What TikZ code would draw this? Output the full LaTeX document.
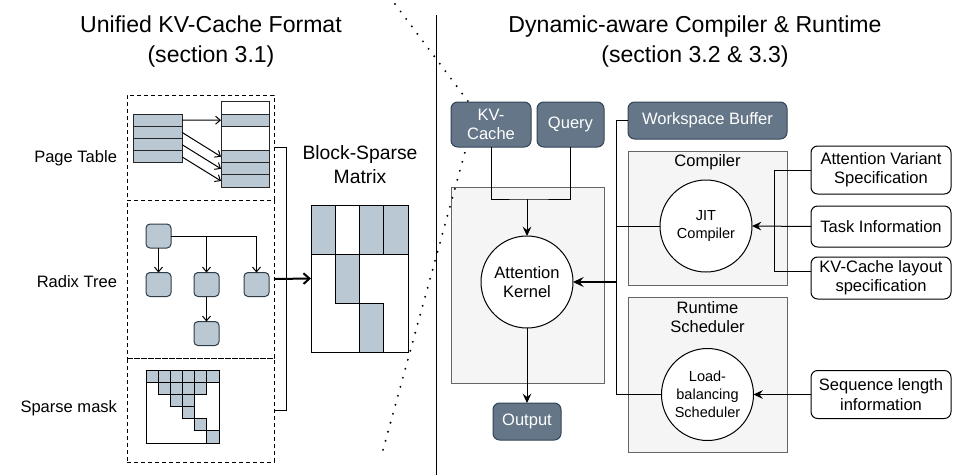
\documentclass[tikz,border=0pt]{standalone}
\usepackage{fontspec}
\setmainfont{Liberation Sans}
\usetikzlibrary{arrows.meta,calc}
\definecolor{darkfill}{HTML}{647687}
\definecolor{darkedge}{HTML}{314354}
\definecolor{cellfill}{HTML}{BAC8D3}
\definecolor{celledge}{HTML}{2F3B44}
\definecolor{contfill}{HTML}{F5F5F5}
\definecolor{contedge}{HTML}{666666}
\newcommand\pxu[1]{#1*0.75pt}
\begin{document}
\begin{tikzpicture}[x=0.75pt,y=-0.75pt,line width=0.75pt,
  every node/.style={inner sep=0pt,outer sep=0pt},
  basetxt/.style={font=\fontsize{12.4}{14.5}\selectfont,align=center},
  smalltxt/.style={font=\fontsize{10.9}{13.5}\selectfont,align=center},
  titletxt/.style={font=\fontsize{17.3}{22.5}\selectfont,align=center},
  darkbox/.style={basetxt,draw=darkedge,fill=darkfill,text=white,rounded corners=5pt},
  contbox/.style={draw=contedge,fill=contfill},
  whitebox/.style={basetxt,draw=black,fill=white,rounded corners=5pt,minimum width=\pxu{140}},
  circ/.style={circle,draw=black,fill=white,minimum size=\pxu{92}},
  dashbox/.style={draw=black,dash pattern=on 3pt off 2.25pt,minimum width=\pxu{147}},
  ptcell/.style={draw=black!85,fill=cellfill,minimum height=\pxu{12.2}},
  radnode/.style={draw=celledge,fill=cellfill,rounded corners=3pt,minimum width=\pxu{25},minimum height=\pxu{24}},
  arr/.style={-{Stealth[length=7pt,width=6.5pt,inset=2.5pt]}},
  thickarr/.style={line width=1.5pt,-{Stealth[length=8pt,width=7.5pt,inset=3pt]}},
  barb/.style={-{Straight Barb[length=3.5pt,width=6pt]}},
  thickbarb/.style={line width=1.5pt,-{Straight Barb[length=4.5pt,width=8pt]}},
  dotline/.style={line width=1.6pt,line cap=round,dash pattern=on 0pt off 7pt},
]
\useasboundingbox (0,0) rectangle (953,475);

% titles
\node[titletxt] (t1) at (211,42) {Unified KV-Cache Format\\(section 3.1)};
\node[titletxt] (t2) at (695,42) {Dynamic-aware Compiler \& Runtime\\(section 3.2 \& 3.3)};

% divider
\coordinate (divtop) at (436,15);
\coordinate (divbot) at (436,475);
\draw (divtop) -- (divbot);

% ---------------- left panel ----------------
\node[dashbox,minimum height=\pxu{105}] (pt) at (200.5,147.5) {};
\node[dashbox,minimum height=\pxu{158}] (rt) at (200.5,279) {};
\node[dashbox,minimum height=\pxu{104}] (sm) at (200.5,410) {};

\node[basetxt,anchor=east] (ptl) at (117,158) {Page Table};
\node[basetxt,anchor=east] (rtl) at (117,282) {Radix Tree};
\node[basetxt,anchor=east] (sml) at (117,408) {Sparse mask};

% page table
\foreach \i in {1,...,4}
  \node[ptcell,minimum width=\pxu{49}] (L\i) at (157.5,{114+(\i-0.5)*12.25}) {};
\node[ptcell,fill=white,minimum width=\pxu{48}] (R0) at (245,108.05) {};
\node[ptcell,minimum width=\pxu{48}] (R1) at (245,120.2) {};
\node[ptcell,fill=white,minimum width=\pxu{48},minimum height=\pxu{24.3}] (R23) at (245,138.45) {};
\node[ptcell,minimum width=\pxu{48}] (R4) at (245,156.65) {};
\node[ptcell,minimum width=\pxu{48}] (R5) at (245,168.8) {};
\node[ptcell,minimum width=\pxu{48}] (R6) at (245,180.95) {};
\draw[barb] (L1.east) -- (R1.west);
\draw[barb] (L2.east) -- (R4.west);
\draw[barb] (L3.east) -- (R5.west);
\draw[barb] (L4.east) -- (R6.west);

% radix tree
\node[radnode] (r0) at (158.5,236) {};
\node[radnode] (r1) at (158.5,284.5) {};
\node[radnode] (r2) at (206.5,284.5) {};
\node[radnode] (r3) at (256.5,284.5) {};
\node[radnode] (r4) at (206.5,333.5) {};
\draw[barb] (r0.south) -- (r1.north);
\draw[barb] (r0.east) -| (r3.north);
\draw[barb] (r0.east -| r2.north) -- (r2.north);
\draw[barb] (r2.south) -- (r4.north);

% sparse mask
\foreach \c/\r in {0/0,1/0,2/0,3/0,4/0,5/0,1/1,2/1,3/1,4/1,2/2,3/2,3/3,4/4,5/5}
  \draw[fill=cellfill] ({146+\c*12.17},{370+\r*12.17}) rectangle ++(12.17,12.17);
\draw (146,370) rectangle (219,443);

% block sparse matrix
\node[font=\fontsize{14.5}{18}\selectfont,align=center] (bsml) at (360,165) {Block-Sparse\\Matrix};
\node[minimum width=\pxu{97},minimum height=\pxu{147}] (bsm) at (359.5,278.5) {};
\draw[fill=cellfill] (311,205) rectangle (335.25,254);
\draw[fill=cellfill] (359.5,205) rectangle (383.75,254);
\draw[fill=cellfill] (383.75,205) rectangle (408,254);
\draw[fill=cellfill] (335.25,254) rectangle (359.5,303);
\draw[fill=cellfill] (359.5,303) rectangle (383.75,352);
\draw (311,254) -- (408,254);
\draw (311,205) rectangle (408,352);

% bracket and arrow to matrix
\draw (pt.east) -- ++(12,0) |- (sm.east);
\draw[thickbarb] (rt.east) -- (bsm.west);

% ---------------- right panel ----------------
\node[contbox,minimum width=\pxu{153},minimum height=\pxu{196}] (attc) at (527.5,285) {};
\node[contbox,minimum width=\pxu{159},minimum height=\pxu{134}] (compc) at (707.5,218) {};
\node[contbox,minimum width=\pxu{159},minimum height=\pxu{155}] (runc) at (707.5,374.5) {};

% dotted zoom line (behind the KV-Cache box)
\coordinate (dz1) at (395,4);
\coordinate (dz2) at (476,112);
\coordinate (dz3) at (383,450);
\draw[dotline] (dz1) -- (dz2) -- (dz3);

\node[darkbox,minimum width=\pxu{80},minimum height=\pxu{45}] (kv) at (491,124.5) {KV-\\Cache};
\node[darkbox,minimum width=\pxu{67},minimum height=\pxu{45}] (query) at (570.5,124.5) {Query};
\node[darkbox,minimum width=\pxu{159},minimum height=\pxu{37}] (ws) at (707.5,120.5) {Workspace Buffer};

\node[circ,basetxt] (attk) at (527,282) {Attention\\Kernel};
\node[darkbox,minimum width=\pxu{68},minimum height=\pxu{37}] (out) at (527,421.5) {Output};

\node[basetxt] (compl) at (707.5,162) {Compiler};
\node[basetxt] (runl) at (707.5,317) {Runtime\\Scheduler};
\node[circ,smalltxt] (jit) at (706,226) {JIT\\Compiler};
\node[circ,smalltxt] (lb) at (707.5,394.5) {Load-\\balancing\\Scheduler};

\node[whitebox,minimum height=\pxu{48}] (avs) at (881,170) {Attention Variant\\Specification};
\node[whitebox,minimum height=\pxu{41}] (task) at (881,226.5) {Task Information};
\node[whitebox,minimum height=\pxu{42}] (kvl) at (881,278) {KV-Cache layout\\specification};
\node[whitebox,minimum height=\pxu{48}] (seq) at (881,394.5) {Sequence length\\information};

% connectors
\coordinate (mrg) at (527,199);
\draw (kv.south) |- (mrg) -| (query.south);
\draw[arr] (mrg) -- (attk.north);
\draw[arr] (attk.south) -- (out.north);

\coordinate (bus) at (616,0);
\draw (ws.west) -| (bus |- ws.west) |- (lb.west);
\draw (jit.west) -- (jit.west -| bus);
\draw[thickarr] (attk.east -| bus) -- (attk.east);

\coordinate (cb) at (774,0);
\coordinate (kvlj) at ($(kvl.west)+(0,-7)$);
\draw (avs.west) -- (avs.west -| cb) -- (cb |- kvlj) -- (kvlj);
\draw[arr] (task.west) -- (jit.east);
\draw[arr] (seq.west) -- (lb.east);
\end{tikzpicture}
\end{document}
